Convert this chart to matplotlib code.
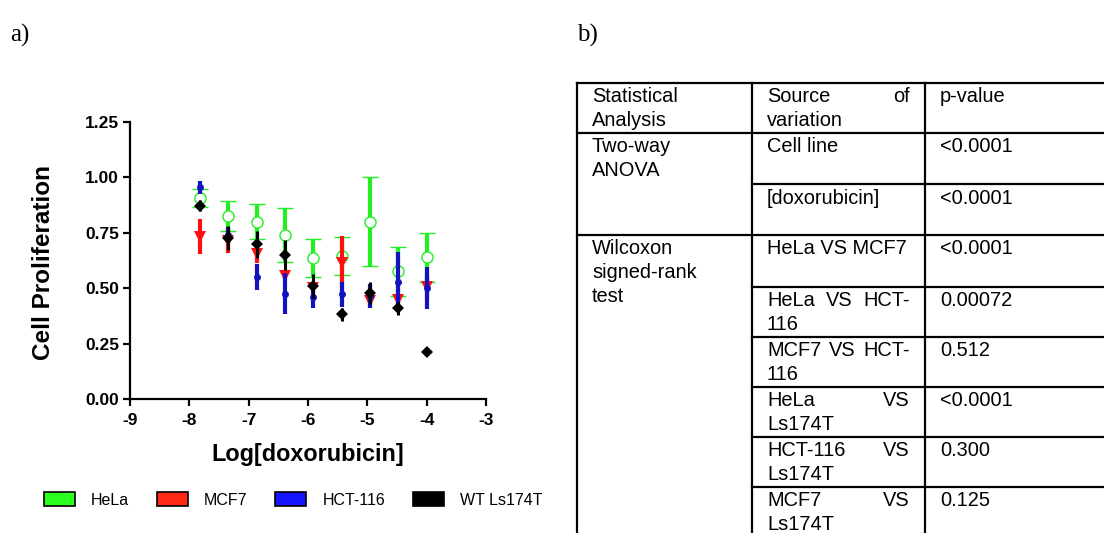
import matplotlib
matplotlib.use("Agg")
import matplotlib.pyplot as plt
from matplotlib.patches import Patch
import numpy as np

plt.rcParams["font.family"] = ["Liberation Sans", "DejaVu Sans"]
plt.rcParams["axes.unicode_minus"] = False

# ---- data ----
log_dose = [-7.82, -7.34, -6.86, -6.39, -5.91, -5.43, -4.95, -4.48, -4.00]

hela_mean = [0.907, 0.826, 0.800, 0.740, 0.637, 0.646, 0.800, 0.577, 0.639]
hela_err = [0.040, 0.068, 0.078, 0.120, 0.087, 0.085, 0.200, 0.110, 0.110]

mcf7_mean = [0.733, 0.715, 0.655, 0.555, 0.500, 0.612, 0.440, 0.445, 0.505]
mcf7_err = [0.079, 0.057, 0.040, 0.015, 0.015, 0.123, 0.025, 0.035, 0.055]

hct_mean = [0.955, 0.740, 0.550, 0.475, 0.460, 0.472, 0.465, 0.530, 0.500]
hct_err = [0.030, 0.035, 0.058, 0.092, 0.050, 0.056, 0.055, 0.133, 0.096]

wt_mean = [0.873, 0.727, 0.699, 0.649, 0.509, 0.382, 0.479, 0.409, 0.213]
wt_err = [0.025, 0.053, 0.061, 0.069, 0.055, 0.030, 0.049, 0.028, np.nan]

cell_lines = ["HeLa", "MCF7", "HCT-116", "WT Ls174T"]
legend_colors = ["#2bff1f", "#ff2a16", "#1414ff", "#000000"]

# table b)
table_header = ["Statistical\nAnalysis", "Source of\nvariation", "p-value"]
analysis_groups = [("Two-way\nANOVA", 2), ("Wilcoxon\nsigned-rank\ntest", 6)]
sources = ["Cell line", "[doxorubicin]", "HeLa VS MCF7", "HeLa VS HCT-\n116",
           "MCF7 VS HCT-\n116", "HeLa VS\nLs174T", "HCT-116 VS\nLs174T",
           "MCF7 VS\nLs174T"]
p_values = ["<0.0001", "<0.0001", "<0.0001", "0.00072", "0.512", "<0.0001",
            "0.300", "0.125"]

W, H = 1104, 533
fig = plt.figure(figsize=(W / 100, H / 100), dpi=100)


def box(x0, y0, x1, y1):
    return [x0 / W, 1 - y1 / H, (x1 - x0) / W, (y1 - y0) / H]


# ---- panel a ----
ax = fig.add_axes(box(130, 122, 486, 399))

styles = [
    dict(color="#22ee22", marker="o", ms=8, mfc="white", mec="#22ee22", mew=1.0,
         capsize=5.5, capthick=3.5, elinewidth=3),
    dict(color="#ff1010", marker="v", ms=9, mfc="#ff1010", mec="#ff1010", mew=0,
         capsize=5.5, capthick=3.5, elinewidth=3),
    dict(color="#1212c0", marker="o", ms=5, mfc="#1212c0", mec="#1212c0", mew=0,
         capsize=3, capthick=4, elinewidth=3),
    dict(color="#000000", marker="D", ms=6.5, mfc="black", mec="black", mew=0,
         capsize=5.5, capthick=2.3, elinewidth=2.2),
]
means = [hela_mean, mcf7_mean, hct_mean, wt_mean]
errs = [hela_err, mcf7_err, hct_err, wt_err]
for i in range(4):
    s = styles[i]
    ax.errorbar(log_dose, means[i], yerr=errs[i], ls="none", color=s["color"],
                marker=s["marker"], markersize=s["ms"], markerfacecolor=s["mfc"],
                markeredgecolor=s["mec"], markeredgewidth=s["mew"],
                capsize=s["capsize"], capthick=s["capthick"],
                elinewidth=s["elinewidth"], zorder=3 + i)

ax.set_xlim(-9, -3)
ax.set_ylim(0, 1.25)
ax.set_xticks(range(-9, -2))
ax.set_yticks([0, 0.25, 0.5, 0.75, 1.0, 1.25])
ax.set_yticklabels(["%.2f" % v for v in [0, 0.25, 0.5, 0.75, 1.0, 1.25]])
for side in ["top", "right"]:
    ax.spines[side].set_visible(False)
for side in ["left", "bottom"]:
    ax.spines[side].set_linewidth(1.6)
ax.tick_params(axis="both", direction="out", length=5, width=1.6, labelsize=12.5)
ax.tick_params(axis="x", pad=5)
ax.tick_params(axis="y", pad=3)
for lab in ax.get_xticklabels() + ax.get_yticklabels():
    lab.set_fontweight("bold")

# overlay in pixel coordinates for labels, legend and table
ov = fig.add_axes([0, 0, 1, 1])
ov.set_xlim(0, W)
ov.set_ylim(H, 0)
ov.axis("off")

ov.text(44, 262, "Cell Proliferation", rotation=90, ha="center", va="center",
        fontsize=17.5, fontweight="bold")
ov.text(308, 455, "Log[doxorubicin]", ha="center", va="center",
        fontsize=16.8, fontweight="bold")

ov.text(10, 42, "a)", family="Liberation Serif", fontsize=18, va="baseline")
ov.text(577, 42, "b)", family="Liberation Serif", fontsize=18, va="baseline")

handles = [Patch(facecolor=c, edgecolor="black", linewidth=1.2) for c in legend_colors]
fig.legend(handles, cell_lines, loc="center left", bbox_to_anchor=(44 / W, 1 - 500 / H),
           ncol=4, frameon=False, fontsize=11.5, handlelength=1.94, handleheight=0.94,
           handletextpad=1.0, columnspacing=1.75, borderpad=0, borderaxespad=0)

# ---- panel b: table ----
col_x = [577, 752, 925, 1120]
row_y = [83, 133, 184, 235, 287, 337, 387, 437, 487, 537]
pad = 15
fs = 14.4
lw = 1.6
line_step = 24

ov.plot([col_x[0], col_x[-1]], [row_y[0], row_y[0]], color="black", lw=lw)
for cx in col_x[:3]:
    ov.plot([cx, cx], [row_y[0], H + 5], color="black", lw=lw)
# full-width lines under header and at the end of each analysis group
group_starts = [1]
for _, n in analysis_groups:
    group_starts.append(group_starts[-1] + n)
for r in range(1, len(row_y) - 1):
    x0 = col_x[0] if r in group_starts else col_x[1]
    ov.plot([x0, col_x[-1]], [row_y[r], row_y[r]], color="black", lw=lw)

renderer = fig.canvas.get_renderer()


def width(s):
    t = ov.text(0, 0, s, fontsize=fs)
    w = t.get_window_extent(renderer).width
    t.remove()
    return w


def cell_text(text, x_left, x_right, y_top, justify=False):
    lines = text.split("\n")
    for k, line in enumerate(lines):
        y = y_top + 14 + k * line_step
        words = line.split(" ")
        if justify and k < len(lines) - 1 and len(words) > 1:
            ws = [width(w) for w in words]
            gap = (x_right - x_left - sum(ws)) / (len(words) - 1)
            x = x_left
            for w, wd in zip(words, ws):
                ov.text(x, y, w, fontsize=fs, va="center", ha="left")
                x += wd + gap
        else:
            ov.text(x_left, y, line, fontsize=fs, va="center", ha="left")


for c in range(3):
    cell_text(table_header[c], col_x[c] + pad, col_x[c + 1] - pad, row_y[0],
              justify=(c == 1))
for (txt, _), r in zip(analysis_groups, group_starts[:-1]):
    cell_text(txt, col_x[0] + pad, col_x[1] - pad, row_y[r])
for r, (src, p) in enumerate(zip(sources, p_values), start=1):
    cell_text(src, col_x[1] + pad, col_x[2] - pad, row_y[r], justify=True)
    cell_text(p, col_x[2] + pad, col_x[3] - pad, row_y[r])

fig.savefig("out.png", dpi=100)
